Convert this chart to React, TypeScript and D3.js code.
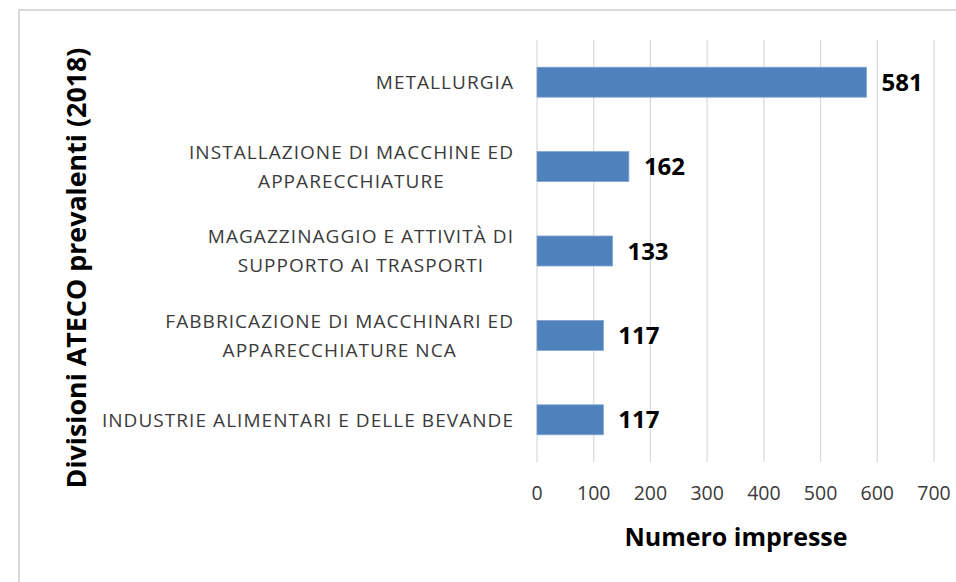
import React, { useLayoutEffect, useRef, useState } from "react";
import * as d3 from "d3";

// categories (top to bottom) and values
const categories = [
  "METALLURGIA",
  "INSTALLAZIONE DI MACCHINE ED APPARECCHIATURE",
  "MAGAZZINAGGIO E ATTIVITÀ DI SUPPORTO AI TRASPORTI",
  "FABBRICAZIONE DI MACCHINARI ED APPARECCHIATURE NCA",
  "INDUSTRIE ALIMENTARI E DELLE BEVANDE",
];
const labelLines = [
  ["METALLURGIA"],
  ["INSTALLAZIONE DI MACCHINE ED", "APPARECCHIATURE"],
  ["MAGAZZINAGGIO E ATTIVITÀ DI", "SUPPORTO AI TRASPORTI"],
  ["FABBRICAZIONE DI MACCHINARI ED", "APPARECCHIATURE NCA"],
  ["INDUSTRIE ALIMENTARI E DELLE BEVANDE"],
];
const values = [581, 162, 133, 117, 117];
const xTicks = [0, 100, 200, 300, 400, 500, 600, 700];

const xTitle = "Numero impresse";
const yTitle = "Divisioni ATECO prevalenti (2018)";

const W = 956;
const H = 582;
const FONT = "'Open Sans', 'Noto Sans', sans-serif";

const App = () => {
  const measureRef = useRef<SVGGElement>(null);
  const [blockW, setBlockW] = useState<number[]>(labelLines.map(() => 0));

  const x = d3.scaleLinear().domain([0, 700]).range([537, 934]);
  const y = d3
    .scaleBand()
    .domain(categories)
    .range([40, 462])
    .paddingInner(0.645)
    .paddingOuter(0.3225);

  const lineGap = 29;
  const labelRight = 514;
  const catStyle = { fontSize: 19, letterSpacing: 1.05, fill: "#3a3a3a" };

  // measure the widest line of each label so wrapped lines can be centred
  useLayoutEffect(() => {
    if (!measureRef.current) return;
    const widths = labelLines.map((lines, i) => {
      const nodes = measureRef.current!.querySelectorAll(`text[data-b="${i}"]`);
      let m = 0;
      nodes.forEach((n) => {
        m = Math.max(m, (n as SVGTextElement).getComputedTextLength());
      });
      return m;
    });
    setBlockW(widths);
  }, []);

  return (
    <svg
      width={W}
      height={H}
      style={{ position: "absolute", left: 0, top: 0 }}
      fontFamily={FONT}
    >
      <rect x={0} y={0} width={W} height={H} fill="#fff" />
      {/* chart border */}
      <rect
        x={19}
        y={10}
        width={W + 10}
        height={H + 10}
        fill="none"
        stroke="#d9d9d9"
        strokeWidth={2}
      />

      {/* hidden measuring texts */}
      <g ref={measureRef} visibility="hidden">
        {labelLines.map((lines, i) =>
          lines.map((l, j) => (
            <text key={`${i}-${j}`} data-b={i} {...catStyle}>
              {l}
            </text>
          ))
        )}
      </g>

      {/* gridlines */}
      {xTicks.map((t) => (
        <line
          key={t}
          x1={x(t)}
          x2={x(t)}
          y1={40}
          y2={462}
          stroke="#d9d9d9"
          strokeWidth={1.2}
        />
      ))}

      {/* bars */}
      {categories.map((c, i) => (
        <rect
          key={c}
          x={x(0)}
          y={y(c)}
          width={x(values[i]) - x(0)}
          height={y.bandwidth()}
          fill="#4f81bd"
          stroke="#7fa3d3"
          strokeWidth={0.8}
        />
      ))}

      {/* value labels */}
      {categories.map((c, i) => (
        <text
          key={c}
          x={x(values[i]) + 15}
          y={y(c)! + y.bandwidth() / 2}
          dy="0.36em"
          fontSize={24}
          fontWeight="bold"
          fill="#000"
        >
          {values[i]}
        </text>
      ))}

      {/* category labels: block right-aligned, lines centred */}
      {categories.map((c, i) => {
        const lines = labelLines[i];
        const cy = y(c)! + y.bandwidth() / 2;
        const cx = labelRight - blockW[i] / 2;
        return (
          <g key={c}>
            {lines.map((l, j) => (
              <text
                key={j}
                x={cx}
                y={cy + (j - (lines.length - 1) / 2) * lineGap}
                dy="0.36em"
                textAnchor="middle"
                {...catStyle}
              >
                {l}
              </text>
            ))}
          </g>
        );
      })}

      {/* x tick labels */}
      {xTicks.map((t) => (
        <text
          key={t}
          x={x(t)}
          y={493}
          dy="0.36em"
          textAnchor="middle"
          fontSize={19.5}
          fill="#3a3a3a"
        >
          {t}
        </text>
      ))}

      {/* axis titles */}
      <text
        x={736}
        y={537}
        dy="0.36em"
        textAnchor="middle"
        fontSize={25}
        fontWeight="bold"
        fill="#000"
      >
        {xTitle}
      </text>
      <text
        transform={`translate(76, 268) rotate(-90)`}
        dy="0.36em"
        textAnchor="middle"
        fontSize={26.8}
        fontWeight="bold"
        fill="#000"
      >
        {yTitle}
      </text>
    </svg>
  );
};

export default App;
